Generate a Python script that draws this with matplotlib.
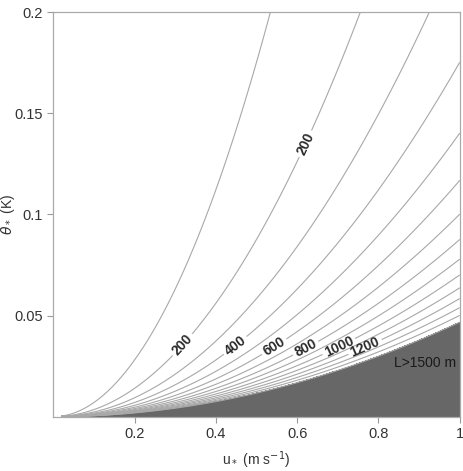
import numpy as np
import matplotlib.pyplot as plt

plt.rcParams['font.family'] = ['Liberation Sans', 'DejaVu Sans']

# Obukhov length L = u*^2 T / (k g theta*)
T_ref = 275.0
kappa = 0.4
g = 9.81

levels = [100, 200, 300, 400, 500, 600, 700, 800, 900, 1000,
          1100, 1200, 1300, 1400, 1500]
fill_min = 1500
label_pos = [(0.319, 0.0354), (0.619, 0.135), (0.447, 0.0354),
             (0.546, 0.0338), (0.622, 0.0334), (0.703, 0.0345),
             (0.767, 0.0345)]
xticks = [0.2, 0.4, 0.6, 0.8, 1.0]
xticklabels = ['0.2', '0.4', '0.6', '0.8', '1']
yticks = [0.05, 0.1, 0.15, 0.2]
yticklabels = ['0.05', '0.1', '0.15', '0.2']

u = np.linspace(0.02, 1.0, 600)
th = np.linspace(0.00001, 0.2, 800)
U, TH = np.meshgrid(u, th)
L = U ** 2 * T_ref / (kappa * g * TH)

fig = plt.figure(figsize=(4.63, 4.71), dpi=100)
ax = fig.add_axes([0.115, 0.1153, 0.878, 0.8592])

ax.contourf(U, TH, L, levels=[fill_min, 1e9], colors=['#676767'])
cs = ax.contour(U, TH, L, levels=levels, colors='#a8a8a8', linewidths=0.8)
lbls = ax.clabel(cs, fmt='%d', fontsize=10, colors='#2a2a2a', inline=True,
                 manual=label_pos, inline_spacing=3)
for t in lbls:
    t.set_fontweight('bold')

ax.text(0.915, 0.0267, 'L>1500 m', fontsize=10, color='#1a1a1a',
        ha='center', va='center')

ax.set_xlim(0, 1)
ax.set_ylim(0, 0.2)
ax.set_xticks(xticks)
ax.set_xticklabels(xticklabels)
ax.set_yticks(yticks)
ax.set_yticklabels(yticklabels)
ax.tick_params(colors='#999999', labelcolor='#333333', labelsize=10.5,
               length=4, width=0.8)
for s in ax.spines.values():
    s.set_color('#aaaaaa')
    s.set_linewidth(0.9)

ax.set_xlabel(r'u$_*$ (m s$^{-1}$)', fontsize=10, color='#333333', labelpad=6)
ax.set_ylabel(r'$\theta_*$ (K)', fontsize=10, color='#333333')
ax.yaxis.set_label_coords(-0.09, 0.5)

fig.savefig('out.png', dpi=100)
